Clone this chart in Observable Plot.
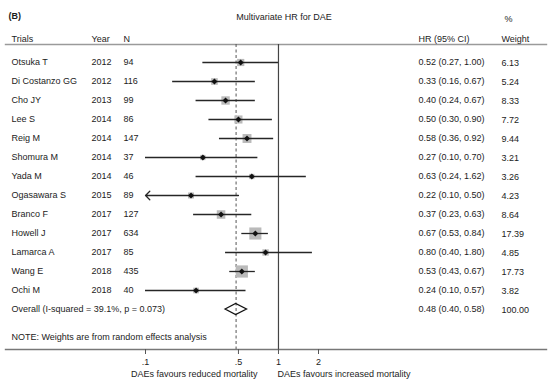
<!DOCTYPE html>
<html>
<head>
<meta charset="utf-8">
<script src="https://cdn.jsdelivr.net/npm/d3@7"></script>
<script src="https://cdn.jsdelivr.net/npm/@observablehq/plot@0.6"></script>
<style>
  html, body { margin: 0; padding: 0; background: #fff; }
</style>
</head>
<body>
<div id="chart"></div>
<script>
// ---- data ----
const trials  = ["Otsuka T","Di Costanzo GG","Cho JY","Lee S","Reig M","Shomura M","Yada M","Ogasawara S","Branco F","Howell J","Lamarca A","Wang E","Ochi M"];
const years   = [2012,2012,2013,2014,2014,2014,2014,2015,2017,2017,2017,2018,2018];
const ns      = [94,116,99,86,147,37,46,89,127,634,85,435,40];
const hr      = [0.52,0.33,0.40,0.50,0.58,0.27,0.63,0.22,0.37,0.67,0.80,0.53,0.24];
const lo      = [0.27,0.16,0.24,0.30,0.36,0.10,0.24,0.10,0.23,0.53,0.40,0.43,0.10];
const hi      = [1.00,0.67,0.67,0.90,0.92,0.70,1.62,0.50,0.63,0.84,1.80,0.67,0.57];
const weights = [6.13,5.24,8.33,7.72,9.44,3.21,3.26,4.23,8.64,17.39,4.85,17.73,3.82];
const clipped = ["Ogasawara S"];   // CI runs past the axis (drawn with an arrow)

const overallLabel = "Overall (I-squared = 39.1%, p = 0.073)";
const overallHR = 0.48, overallLo = 0.40, overallHi = 0.58, overallWeight = 100.00;

const tickValues = [0.1, 0.5, 1, 2];
const tickLabels = [".1", ".5", "1", "2"];

const panelLabel = "(B)";
const title = "Multivariate HR for DAE";
const headers = {trial: "Trials", year: "Year", n: "N", hr: "HR (95% CI)", weight: "Weight", pct: "%"};
const note = "NOTE: Weights are from random effects analysis";
const leftLabel = "DAEs favours reduced mortality";
const rightLabel = "DAEs favours increased mortality";

// ---- tables built from the arrays ----
const rows = trials.map((t, i) => ({
  trial: t, year: years[i], n: ns[i], hr: hr[i], lo: lo[i], hi: hi[i], weight: weights[i]
}));
const fmt = d3.format(".2f");
const ciText = (h, l, u) => `${fmt(h)} (${fmt(l)}, ${fmt(u)})`;
const allRows = [
  ...rows.map(r => ({key: r.trial, label: r.trial, year: String(r.year), n: String(r.n),
                     ci: ciText(r.hr, r.lo, r.hi), w: fmt(r.weight)})),
  {key: "Overall", label: overallLabel, year: "", n: "", ci: ciText(overallHR, overallLo, overallHi), w: fmt(overallWeight)}
];
const overall = [{key: "Overall", hr: overallHR, lo: overallLo, hi: overallHi}];

// ---- layout constants (pixels) ----
const col = {trial: 11, year: 91, n: 123, hr: 418, weight: 501, pct: 504};
const txt = "#1c1c1c";
const FONT = "'Liberation Sans', Arial, Helvetica, sans-serif";
const fs = 9;

const chart = Plot.plot({
  width: 556,
  height: 387,
  marginLeft: 0,
  marginRight: 0,
  marginTop: 44,
  marginBottom: 38,
  style: {fontFamily: FONT, fontSize: "9px", background: "#fff", color: txt},
  x: {type: "log", domain: [0.1, 2], insetLeft: 145, insetRight: 238, label: null},
  y: {type: "point", domain: [...trials, "Overall"], padding: 0, insetTop: 15, insetBottom: 38, axis: null},
  r: {type: "sqrt", domain: [0, d3.max(weights)], range: [0, 6.9]},
  marks: [
    // horizontal rules at top and bottom of the plot area
    Plot.frame({anchor: "top", insetLeft: 5, insetRight: 10, stroke: "#9a9a9a", strokeWidth: 1.4}),
    Plot.frame({anchor: "bottom", insetLeft: 5, insetRight: 10, stroke: "#777", strokeWidth: 1.4}),
    // null line and overall dashed line
    Plot.ruleX([1], {stroke: "#444", strokeWidth: 1.2}),
    Plot.ruleX([overallHR], {stroke: "#555", strokeWidth: 1, strokeDasharray: "3,2.5"}),
    // weight squares
    Plot.dot(rows, {x: "hr", y: "trial", r: "weight", symbol: "square", fill: "#bababa", stroke: null}),
    // CIs
    Plot.ruleY(rows.filter(d => !clipped.includes(d.trial)), {y: "trial", x1: "lo", x2: "hi", stroke: "#262626", strokeWidth: 1.3}),
    Plot.arrow(rows.filter(d => clipped.includes(d.trial)), {
      x1: "hi", x2: "lo", y1: "trial", y2: "trial", stroke: "#262626", strokeWidth: 1.3,
      headLength: 7, headAngle: 90
    }),
    // point estimates
    Plot.dot(rows, {x: "hr", y: "trial", r: 2.7, symbol: "diamond2", fill: "#111", stroke: null}),
    // overall diamond (built from the library's scales)
    (index, scales) => {
      const o = overall[0];
      const yc = scales.y(o.key), h = 5.6;
      const xl = scales.x(o.lo), xm = scales.x(o.hr), xr = scales.x(o.hi);
      return d3.create("svg:path")
        .attr("d", `M${xl},${yc}L${xm},${yc - h}L${xr},${yc}L${xm},${yc + h}Z`)
        .attr("fill", "none").attr("stroke", "#111").attr("stroke-width", 1.3)
        .node();
    },
    // x axis
    Plot.axisX({ticks: tickValues, tickFormat: (d) => tickLabels[tickValues.indexOf(d)], tickSize: 5, tickPadding: 4,
                label: null, stroke: "#555", fill: txt, fontSize: fs}),
    // table columns
    Plot.text(allRows, {y: "key", text: "label", frameAnchor: "left", dx: col.trial, textAnchor: "start", fill: txt, fontSize: fs}),
    Plot.text(allRows, {y: "key", text: "year", frameAnchor: "left", dx: col.year, textAnchor: "start", fill: txt, fontSize: fs}),
    Plot.text(allRows, {y: "key", text: "n", frameAnchor: "left", dx: col.n, textAnchor: "start", fill: txt, fontSize: fs}),
    Plot.text(allRows, {y: "key", text: "ci", frameAnchor: "left", dx: col.hr, textAnchor: "start", fill: txt, fontSize: fs}),
    Plot.text(allRows, {y: "key", text: "w", frameAnchor: "left", dx: col.weight, textAnchor: "start", dy: 1, fill: txt, fontSize: fs}),
    // header row
    Plot.text([headers.trial], {frameAnchor: "top-left", dx: col.trial, dy: -9, textAnchor: "start", fill: txt, fontSize: fs}),
    Plot.text([headers.year], {frameAnchor: "top-left", dx: col.year, dy: -9, textAnchor: "start", fill: txt, fontSize: fs}),
    Plot.text([headers.n], {frameAnchor: "top-left", dx: col.n, dy: -9, textAnchor: "start", fill: txt, fontSize: fs}),
    Plot.text([headers.hr], {frameAnchor: "top-left", dx: col.hr, dy: -9, textAnchor: "start", fill: txt, fontSize: fs}),
    Plot.text([headers.weight], {frameAnchor: "top-left", dx: col.weight, dy: -9, textAnchor: "start", fill: txt, fontSize: fs}),
    Plot.text([headers.pct], {frameAnchor: "top-left", dx: col.pct, dy: -29, textAnchor: "start", fill: txt, fontSize: fs}),
    // title and panel label
    Plot.text([title], {frameAnchor: "top", dx: 5.5, dy: -31, fill: txt, fontSize: fs}),
    Plot.text([panelLabel], {frameAnchor: "top-left", dx: 8, dy: -32, textAnchor: "start", fill: txt, fontSize: fs, fontWeight: "bold"}),
    // note
    Plot.text([note], {frameAnchor: "bottom-left", dx: col.trial, dy: -10, textAnchor: "start", fill: txt, fontSize: fs}),
    // favours labels
    Plot.text([leftLabel], {x: () => 1, frameAnchor: "bottom", dx: -21, dy: 27, textAnchor: "end", fill: txt, fontSize: fs}),
    Plot.text([rightLabel], {x: () => 1, frameAnchor: "bottom", dx: -1, dy: 27, textAnchor: "start", fill: txt, fontSize: fs})
  ]
});
document.getElementById("chart").appendChild(chart);
</script>
</body>
</html>
